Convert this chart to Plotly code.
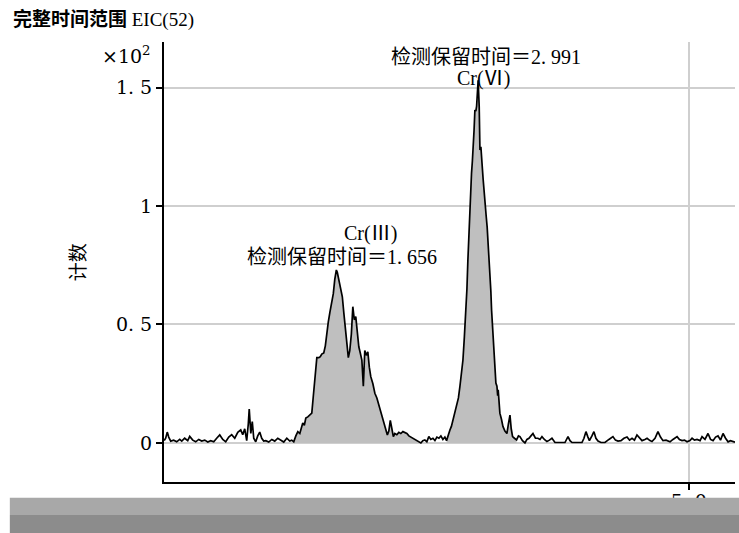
import plotly.graph_objects as go

# ---- data (acquisition time in min, counts) ----
times = [
    0.002, 0.016, 0.031, 0.045, 0.064, 0.092, 0.121, 0.150, 0.169, 0.197,
    0.226, 0.245, 0.274, 0.302, 0.331, 0.359, 0.388, 0.417, 0.445, 0.474,
    0.502, 0.531, 0.560, 0.588, 0.617, 0.645, 0.674, 0.703, 0.731, 0.750,
    0.769, 0.788, 0.803, 0.812, 0.827, 0.841, 0.855, 0.874, 0.893, 0.912,
    0.931, 0.950, 0.970, 0.998, 1.027, 1.055, 1.084, 1.113, 1.141, 1.170,
    1.198, 1.217, 1.236, 1.256, 1.275, 1.294, 1.308, 1.322, 1.337, 1.351,
    1.370, 1.389, 1.408, 1.422, 1.437, 1.456, 1.475, 1.489, 1.503, 1.522,
    1.537, 1.551, 1.565, 1.580, 1.599, 1.613, 1.627, 1.642, 1.651, 1.661,
    1.670, 1.684, 1.699, 1.713, 1.727, 1.742, 1.756, 1.770, 1.785, 1.799,
    1.813, 1.827, 1.842, 1.856, 1.870, 1.885, 1.899, 1.913, 1.928, 1.942,
    1.956, 1.970, 1.990, 2.009, 2.028, 2.042, 2.056, 2.075, 2.094, 2.113,
    2.128, 2.142, 2.156, 2.171, 2.185, 2.199, 2.218, 2.237, 2.256, 2.276,
    2.295, 2.314, 2.333, 2.352, 2.371, 2.390, 2.409, 2.428, 2.447, 2.466,
    2.485, 2.504, 2.523, 2.542, 2.562, 2.581, 2.600, 2.619, 2.638, 2.657,
    2.676, 2.692, 2.709, 2.724, 2.738, 2.752, 2.771, 2.787, 2.805, 2.819,
    2.833, 2.848, 2.862, 2.876, 2.886, 2.895, 2.905, 2.914, 2.924, 2.930,
    2.938, 2.946, 2.954, 2.962, 2.971, 2.978, 2.986, 2.993, 3.003, 3.010,
    3.019, 3.026, 3.033, 3.041, 3.050, 3.057, 3.069, 3.079, 3.092, 3.105,
    3.114, 3.121, 3.134, 3.143, 3.153, 3.162, 3.172, 3.179, 3.184, 3.191,
    3.200, 3.215, 3.229, 3.248, 3.267, 3.281, 3.296, 3.308, 3.321, 3.339,
    3.359, 3.377, 3.391, 3.415, 3.439, 3.458, 3.477, 3.496, 3.515, 3.539,
    3.562, 3.582, 3.601, 3.624, 3.648, 3.672, 3.696, 3.725, 3.772, 3.820,
    3.849, 3.868, 3.887, 3.934, 3.982, 4.001, 4.020, 4.039, 4.053, 4.077,
    4.096, 4.115, 4.135, 4.163, 4.201, 4.239, 4.277, 4.301, 4.325, 4.354,
    4.382, 4.411, 4.435, 4.459, 4.482, 4.506, 4.530, 4.554, 4.582, 4.602,
    4.630, 4.649, 4.678, 4.706, 4.730, 4.754, 4.783, 4.821, 4.849, 4.888,
    4.911, 4.935, 4.959, 4.983, 5.011, 5.031, 5.054, 5.078, 5.107, 5.126,
    5.154, 5.183, 5.207, 5.231, 5.255, 5.278, 5.302, 5.326, 5.350, 5.374,
    5.397, 5.421, 5.440,
]

counts = [
    1.0, 2.0, 4.6, 2.5, 0.8, 1.2, 0.5, 1.5, 0.8, 2.0,
    1.0, 2.8, 1.2, 0.5, 1.5, 0.8, 1.2, 0.4, 1.0, 0.5,
    2.0, 3.4, 1.5, 0.5, 2.5, 3.5, 2.0, 4.5, 5.5, 3.5,
    6.0, 1.0, 8.0, 14.3, 4.0, 9.0, 2.0, 0.5, 3.0, 4.6,
    2.0, 0.8, 1.0, 0.4, 1.5, 0.8, 2.0, 1.2, 0.4, 2.0,
    0.8, 1.2, 0.5, 3.0, 4.8, 4.0, 6.5, 8.4, 7.5, 10.5,
    11.0, 12.0, 12.6, 19.5, 27.0, 36.0, 36.0, 36.4, 37.5, 38.0,
    41.0, 47.0, 51.0, 55.0, 59.0, 63.0, 69.0, 73.0, 72.0, 70.0,
    68.0, 64.0, 61.7, 55.0, 49.0, 42.0, 36.0, 39.0, 46.0, 57.5,
    52.0, 53.3, 45.0, 40.6, 38.0, 35.0, 24.0, 39.0, 37.0, 38.5,
    32.0, 28.0, 25.0, 21.0, 19.0, 16.8, 14.0, 11.0, 8.0, 5.0,
    3.4, 5.0, 9.5, 6.0, 2.7, 4.0, 3.5, 4.5, 4.0, 4.8,
    4.5, 4.0, 3.0, 2.5, 2.0, 1.5, 1.0, 0.5, 0.0, 1.0,
    1.3, 0.5, 2.7, 1.5, 2.0, 1.0, 2.5, 2.0, 3.0, 1.5,
    2.5, 1.0, 4.0, 5.5, 7.0, 9.7, 12.0, 15.3, 19.0, 23.8,
    29.0, 35.0, 45.0, 54.8, 65.0, 77.0, 89.0, 101.0, 108.0, 114.0,
    119.0, 123.6, 132.0, 140.5, 140.0, 142.0, 147.0, 153.0, 142.0, 123.6,
    125.0, 122.0, 116.0, 111.0, 105.0, 101.0, 96.0, 91.0, 82.0, 71.7,
    64.0, 56.0, 46.0, 38.0, 31.0, 25.3, 24.0, 20.0, 22.4, 16.0,
    12.6, 10.0, 7.0, 5.0, 4.0, 8.0, 11.8, 6.0, 2.7, 2.0,
    1.3, 3.0, 2.7, 1.0, 0.0, 1.5, 2.0, 3.0, 4.0, 2.0,
    2.0, 1.5, 2.7, 1.5, 0.6, 1.2, 2.0, 0.2, 0.2, 0.2,
    2.7, 1.0, 0.2, 0.2, 0.2, 2.0, 4.8, 2.5, 1.0, 3.0,
    4.8, 2.0, 0.8, 0.2, 0.2, 1.5, 2.7, 1.2, 0.8, 1.0,
    2.0, 2.5, 1.2, 2.0, 1.2, 3.4, 2.0, 1.0, 1.5, 2.0,
    1.0, 0.6, 2.0, 4.8, 2.5, 1.0, 1.2, 0.5, 1.5, 2.7,
    1.5, 1.0, 1.2, 0.5, 1.0, 2.0, 1.2, 1.5, 1.0, 2.7,
    1.5, 4.0, 1.5, 1.0, 2.5, 3.0, 1.2, 4.0, 2.0, 0.5,
    1.0, 0.5, 0.3,
]

peak_names = ["Cr(Ⅲ)", "Cr(Ⅵ)"]
peak_rt_labels = ["检测保留时间＝1. 656", "检测保留时间＝2. 991"]
peak_rt = [1.656, 2.991]
peak_windows = [(1.236, 2.447), (2.692, 3.359)]

y_tickvals = [0, 0.5, 1, 1.5]
y_ticktext = ["0", "0. 5", "1", "1. 5"]
x_tickvals = [5]
x_ticktext = ["5. 0"]

scale = 100.0  # y axis shown in units of 10^2
y_scaled = [c / scale for c in counts]

FONT = "Liberation Serif, Noto Sans CJK SC, serif"
TICKFONT = "DejaVu Serif, Liberation Serif, serif"

fig = go.Figure()

for lo, hi in peak_windows:
    xs = [t for t in times if lo <= t <= hi]
    ys = [y for t, y in zip(times, y_scaled) if lo <= t <= hi]
    fig.add_trace(go.Scatter(
        x=xs, y=ys, mode="lines", fill="tozeroy",
        fillcolor="#bfbfbf", line=dict(width=0, color="#bfbfbf"),
        hoverinfo="skip", showlegend=False,
    ))

fig.add_trace(go.Scatter(
    x=times, y=y_scaled, mode="lines",
    line=dict(color="black", width=1.7),
    showlegend=False,
))

# peak apex heights (nearest sample to retention time)
heights = []
for rt in peak_rt:
    best = min(range(len(times)), key=lambda i: abs(times[i] - rt))
    heights.append(y_scaled[best])

ann_font = dict(family=FONT, size=20, color="black")
# Cr(III)
fig.add_annotation(x=peak_rt[0], y=heights[0], xref="x", yref="y",
                   text=peak_rt_labels[0], showarrow=False,
                   xshift=4, yshift=15, yanchor="middle", font=ann_font)
fig.add_annotation(x=peak_rt[0], y=heights[0], xref="x", yref="y",
                   text=peak_names[0], showarrow=False,
                   xshift=33, yshift=39, yanchor="middle", font=ann_font)
# Cr(VI)
fig.add_annotation(x=peak_rt[1], y=heights[1], xref="x", yref="y",
                   text=peak_names[1], showarrow=False,
                   xshift=6, yshift=2, yanchor="middle", font=ann_font)
fig.add_annotation(x=peak_rt[1], y=heights[1], xref="x", yref="y",
                   text=peak_rt_labels[1], showarrow=False,
                   xshift=8, yshift=23, yanchor="middle", font=ann_font)

# title, multiplier, y title
fig.add_annotation(x=-0.268, y=1.052, xref="paper", yref="paper",
                   text="<b>完整时间范围</b> EIC(52)", showarrow=False,
                   xanchor="left", yanchor="middle",
                   font=dict(family=FONT, size=19, color="black"))
fig.add_annotation(x=-0.019, y=0.970, xref="paper", yref="paper",
                   text="×10<sup>2</sup>", showarrow=False,
                   xanchor="right", yanchor="middle",
                   font=dict(family=TICKFONT, size=19, color="black"))
fig.add_annotation(x=-0.150, y=0.5, xref="paper", yref="paper",
                   text="计数", showarrow=False, textangle=-90,
                   xanchor="center", yanchor="middle",
                   font=dict(family=FONT, size=19, color="black"))

# bottom scan-artifact band of the reference image
fig.add_shape(type="rect", xref="paper", yref="paper",
              x0=-0.27, x1=1.01, y0=-0.036, y1=-0.075,
              fillcolor="#a8a8a8", line=dict(width=0), layer="above")
fig.add_shape(type="rect", xref="paper", yref="paper",
              x0=-0.27, x1=1.01, y0=-0.075, y1=-0.12,
              fillcolor="#8c8c8c", line=dict(width=0), layer="above")

fig.update_layout(
    width=739, height=533,
    margin=dict(l=164, r=4, t=42, b=51),
    paper_bgcolor="white", plot_bgcolor="white",
    font=dict(family=FONT, size=16, color="black"),
    xaxis=dict(range=[0, 5.44], tickvals=x_tickvals, ticktext=x_ticktext,
               showgrid=True, gridcolor="#cfcfcf", gridwidth=1.5,
               zeroline=False, showline=True, linecolor="black", linewidth=2,
               ticks="outside", ticklen=6, tickcolor="black", tickwidth=2,
               ticklabelstandoff=-5,
               tickfont=dict(family=TICKFONT, size=19)),
    yaxis=dict(range=[-0.1646, 1.692], tickvals=y_tickvals, ticktext=y_ticktext,
               showgrid=True, gridcolor="#cfcfcf", gridwidth=1.5,
               zeroline=False, showline=True, linecolor="black", linewidth=2,
               ticks="outside", ticklen=6, tickcolor="black", tickwidth=1.5,
               tickfont=dict(family=TICKFONT, size=19)),
)

fig.write_html("out.html")
